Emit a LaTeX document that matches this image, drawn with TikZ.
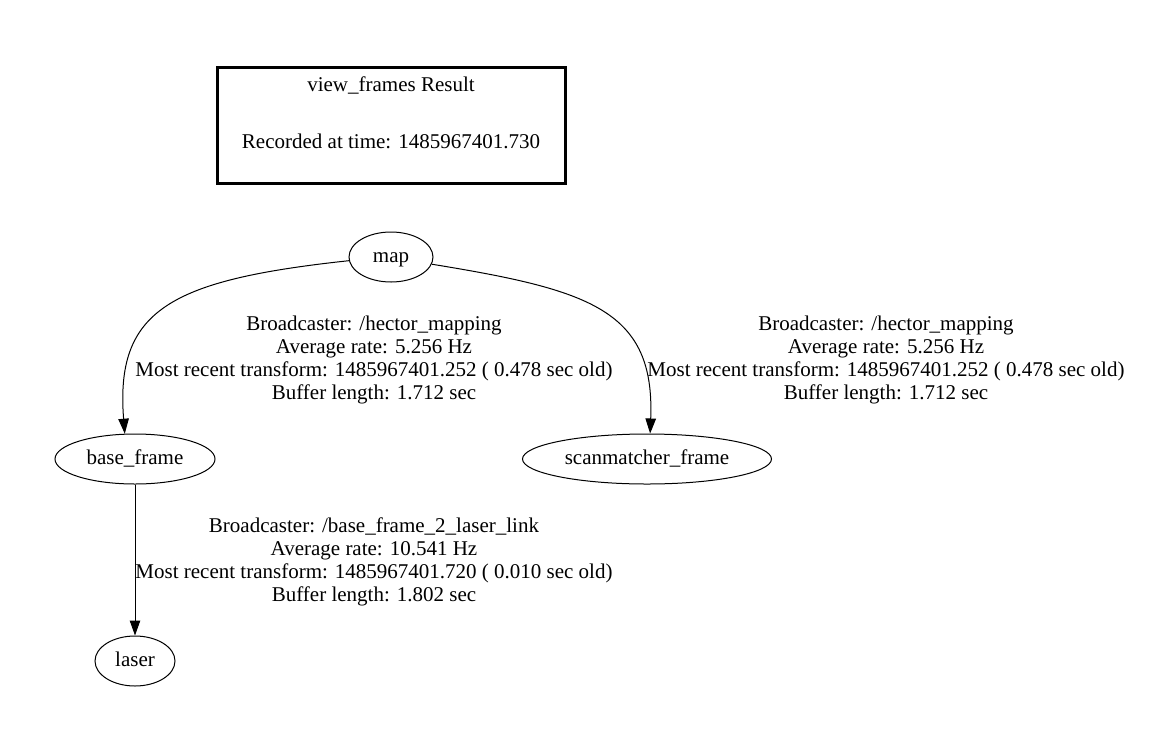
\documentclass[tikz,border=0pt]{standalone}
\usepackage{fontspec}
\setmainfont{Liberation Serif}
\usetikzlibrary{shapes.geometric,arrows.meta}

\begin{document}
\begin{tikzpicture}[x=1pt, y=-1pt,
    font=\fontsize{21}{23}\selectfont,
    frame/.style={draw, ellipse, line width=1pt, inner sep=0pt, minimum height=50pt,
      text height=14pt, text depth=4pt},
    resultbox/.style={draw, rectangle, line width=3pt, minimum width=348pt, minimum height=116pt},
    edgelabel/.style={align=center, inner sep=0pt},
    tfedge/.style={line width=1pt, -{Triangle[length=15pt, width=10.5pt]}}]
  \useasboundingbox (0,0) rectangle (1154,729);

  % header box
  \node[resultbox] (result) at (391,125) {};
  \node[align=center, inner sep=0pt] (resulttext) at (391,113)
    {view\_frames Result\\[34pt]Recorded at time: 1485967401.730};

  % frames
  \node[frame, minimum width=84pt] (map) at (391,257) {map};
  \node[frame, minimum width=160pt] (basef) at (135,459) {base\_frame};
  \node[frame, minimum width=249pt] (scanm) at (647,459) {scanmatcher\_frame};
  \node[frame, minimum width=80pt] (laser) at (135,661) {laser};

  % transforms
  \draw[tfedge] (map.185) .. controls (170,280) and (115,310) .. (basef.112);
  \draw[tfedge] (map.-10) .. controls (590,290) and (655,310) .. (scanm.83);
  \draw[tfedge] (basef) -- (laser);

  \node[edgelabel] (lbmap) at (374,360)
    {Broadcaster: /hector\_mapping\\Average rate: 5.256 Hz\\Most recent transform: 1485967401.252 ( 0.478 sec old)\\Buffer length: 1.712 sec};
  \node[edgelabel] (lbscan) at (886,360)
    {Broadcaster: /hector\_mapping\\Average rate: 5.256 Hz\\Most recent transform: 1485967401.252 ( 0.478 sec old)\\Buffer length: 1.712 sec};
  \node[edgelabel] (lblaser) at (374,562)
    {Broadcaster: /base\_frame\_2\_laser\_link\\Average rate: 10.541 Hz\\Most recent transform: 1485967401.720 ( 0.010 sec old)\\Buffer length: 1.802 sec};
\end{tikzpicture}
\end{document}
